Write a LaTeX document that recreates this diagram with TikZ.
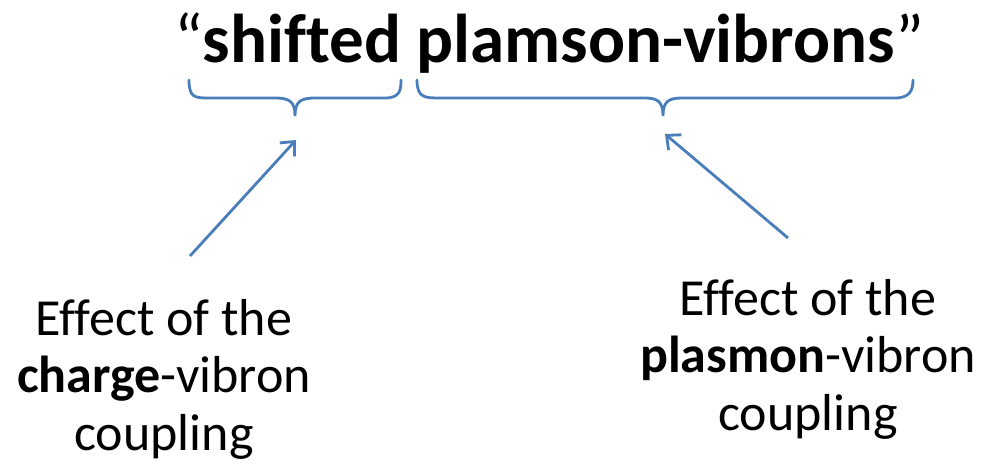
\documentclass[tikz,border=0pt]{standalone}
\usepackage{fontspec}
\setmainfont[Ligatures=CommonOff]{Carlito}
\usetikzlibrary{arrows.meta}
\definecolor{linkblue}{RGB}{74,126,187}
\begin{document}
\begin{tikzpicture}[x=1pt,y=-1pt,
  brace/.style={draw=linkblue,line width=2.8pt,line cap=round},
  pointer/.style={draw=linkblue,line width=2.8pt,-{Straight Barb[length=11pt,width=20pt,line width=2.8pt]}},
  caption/.style={font=\fontsize{52}{57.5}\selectfont,align=center,inner sep=0pt}]
\useasboundingbox (0,0) rectangle (986,468);
% title (quotation marks in regular weight)
\node[font=\fontsize{69}{80}\selectfont,anchor=base,inner sep=0pt] (title) at (549,63)
  {“\textbf{shifted plamson-vibrons}”};
% braces under the words
\coordinate (b1) at (295,116);
\coordinate (b2) at (663,116);
\draw[brace] (189,80) .. controls (189,98) and (195,98) .. (210,98) -- (275,98)
  .. controls (290,98) and (295,102) .. (b1)
  .. controls (295,102) and (300,98) .. (315,98) -- (385,98)
  .. controls (400,98) and (401,90) .. (401,80);
\draw[brace] (417,80) .. controls (417,98) and (425,98) .. (440,98) -- (645,98)
  .. controls (658,98) and (663,102) .. (b2)
  .. controls (663,102) and (668,98) .. (682,98) -- (895,98)
  .. controls (910,98) and (913,90) .. (913,80);
% captions (anchored at the baseline of the last line)
\node[caption,anchor=base] (c1) at (164,450) {Effect of the\\\textbf{charge}-vibron\\coupling};
\node[caption,anchor=base] (c2) at (808,430) {Effect of the\\\textbf{plasmon}-vibron\\coupling};
% pointers
\coordinate (p1s) at (190,256);
\coordinate (p1e) at (296,140);
\coordinate (p2s) at (788,238);
\coordinate (p2e) at (665,134);
\draw[pointer] (p1s) -- (p1e);
\draw[pointer] (p2s) -- (p2e);
\end{tikzpicture}
\end{document}
